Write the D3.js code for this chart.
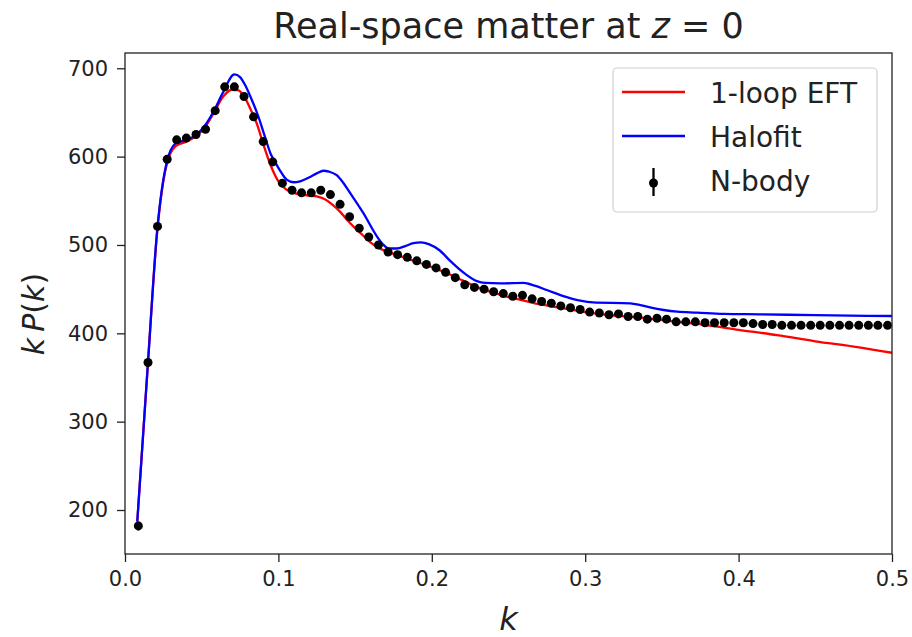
<!DOCTYPE html>
<html>
<head>
<meta charset="utf-8">
<script src="https://cdn.jsdelivr.net/npm/d3@7"></script>
<style>
  body { margin: 0; background: #fff; }
  text { font-family: "DejaVu Sans", sans-serif; fill: #222; }
</style>
</head>
<body>
<svg id="chart" width="912" height="637"></svg>
<script>
// N-body measurements
const nbodyK = [0.0087, 0.0150, 0.0212, 0.0275, 0.0337, 0.0400, 0.0463, 0.0525, 0.0588, 0.0650,
  0.0713, 0.0776, 0.0838, 0.0901, 0.0963, 0.1026, 0.1089, 0.1151, 0.1214, 0.1276,
  0.1339, 0.1402, 0.1464, 0.1527, 0.1589, 0.1652, 0.1715, 0.1777, 0.1840, 0.1902,
  0.1965, 0.2028, 0.2090, 0.2153, 0.2215, 0.2278, 0.2341, 0.2403, 0.2466, 0.2528,
  0.2591, 0.2654, 0.2716, 0.2779, 0.2841, 0.2904, 0.2967, 0.3029, 0.3092, 0.3155,
  0.3217, 0.3280, 0.3343, 0.3405, 0.3468, 0.3530, 0.3593, 0.3656, 0.3718, 0.3781,
  0.3843, 0.3906, 0.3969, 0.4031, 0.4094, 0.4157, 0.4219, 0.4282, 0.4345, 0.4407,
  0.4470, 0.4532, 0.4595, 0.4658, 0.4720, 0.4783, 0.4846, 0.4908, 0.4971];
const nbodyP = [182, 367, 521, 597, 619, 621, 625, 631, 652, 679,
  679, 668, 645, 617, 594, 570, 562, 559, 559, 562,
  557, 546, 532, 519, 509, 500, 492, 489, 486, 482,
  478, 474, 469, 463, 455, 452, 450, 447, 445, 442,
  443, 439, 436, 434, 431, 429, 427, 424, 423, 421,
  422, 419, 419, 416, 417, 416, 413, 413, 413, 412,
  412, 412, 412, 412, 411, 410, 410, 409, 409, 409,
  409, 409, 409, 409, 409, 409, 409, 409, 409];
// error bars are smaller than the markers
const nbodyErr = [5, 4, 4, 3, 3, 3, 3, 3, 2, 2,
  2, 2, 2, 2, 2, 2, 2, 2, 2, 2,
  2, 2, 2, 2, 2, 2, 2, 2, 2, 2,
  1, 1, 1, 1, 1, 1, 1, 1, 1, 1,
  1, 1, 1, 1, 1, 1, 1, 1, 1, 1,
  1, 1, 1, 1, 1, 1, 1, 1, 1, 1,
  1, 1, 1, 1, 1, 1, 1, 1, 1, 1,
  1, 1, 1, 1, 1, 1, 1, 1, 1];

// 1-loop EFT curve
const eftK = [0.008, 0.0149, 0.021, 0.027, 0.033, 0.040, 0.046, 0.052, 0.058, 0.064,
  0.070, 0.074, 0.078, 0.082, 0.086, 0.090, 0.095, 0.100, 0.105, 0.110,
  0.115, 0.120, 0.125, 0.130, 0.135, 0.140, 0.145, 0.150, 0.155, 0.160,
  0.165, 0.170, 0.180, 0.190, 0.200, 0.210, 0.220, 0.230, 0.240, 0.250,
  0.260, 0.270, 0.280, 0.290, 0.300, 0.320, 0.340, 0.360, 0.380, 0.400,
  0.425, 0.450, 0.475, 0.500];
const eftP = [187, 365, 515, 590, 612, 617, 623, 633, 650, 668,
  676, 675, 667, 653, 637, 615, 590, 572, 563, 559,
  557, 556, 555, 552, 546, 538, 528, 519, 511, 503,
  497, 493, 487, 481, 475, 468, 460, 452, 446, 441,
  437, 433, 430, 427, 424, 420, 417, 413, 409, 404,
  398, 391, 385, 378];

// Halofit curve
const halofitK = [0.008, 0.0149, 0.021, 0.027, 0.033, 0.040, 0.046, 0.052, 0.058, 0.064,
  0.0713, 0.075, 0.0783, 0.082, 0.087, 0.0913, 0.095, 0.0978, 0.1015, 0.1054,
  0.110, 0.1141, 0.1207, 0.125, 0.1293, 0.133, 0.138, 0.142, 0.1467, 0.1554,
  0.1641, 0.168, 0.172, 0.177, 0.183, 0.188, 0.193, 0.198, 0.205, 0.212,
  0.2164, 0.222, 0.2294, 0.235, 0.2446, 0.2598, 0.267, 0.275, 0.288, 0.2968,
  0.305, 0.3294, 0.336, 0.343, 0.3511, 0.360, 0.3728, 0.390, 0.4141, 0.450, 0.500];
const halofitP = [187, 365, 517, 592, 615, 619, 624, 635, 652, 673,
  693, 690, 681, 667, 645, 622, 603, 594, 583, 574,
  571, 572, 577, 581, 584, 583, 579, 571, 559, 536,
  510, 501, 496, 496, 499, 502, 503, 501, 494, 482,
  475, 467, 459, 457, 456.5, 457, 454, 449, 441, 437,
  435, 434, 432, 429, 426.4, 424.5, 423.5, 422, 421.5, 420.5, 419.6];

const xTicks = [0.0, 0.1, 0.2, 0.3, 0.4, 0.5];
const yTicks = [200, 300, 400, 500, 600, 700];
const legendItems = ["1-loop EFT", "Halofit", "N-body"];

let svg = d3.select("#chart");
let plot = {l: 125, r: 892, t: 53, b: 554};

let x = d3.scaleLinear().domain([0, 0.5]).range([plot.l, plot.r]);
let y = d3.scaleLinear().domain([150.2, 717.3]).range([plot.b, plot.t]);

svg.append("rect").attr("width", 912).attr("height", 637).attr("fill", "#fff");

svg.append("defs").append("clipPath").attr("id", "clip")
  .append("rect")
  .attr("x", plot.l).attr("y", plot.t)
  .attr("width", plot.r - plot.l).attr("height", plot.b - plot.t);

// axes
let xAxis = svg.append("g")
  .attr("transform", `translate(0, ${plot.b})`)
  .call(d3.axisBottom(x).tickValues(xTicks).tickFormat(d3.format(".1f")).tickSizeOuter(0).tickSize(8).tickPadding(9));
let yAxis = svg.append("g")
  .attr("transform", `translate(${plot.l}, 0)`)
  .call(d3.axisLeft(y).tickValues(yTicks).tickSizeOuter(0).tickSize(8).tickPadding(9));
[xAxis, yAxis].forEach(a => {
  a.select(".domain").remove();
  a.selectAll(".tick line").attr("stroke", "#222").attr("stroke-width", 1.3);
  a.selectAll(".tick text").attr("font-size", 21).attr("fill", "#222")
    .attr("font-family", "DejaVu Sans");
});

let data = nbodyK.map((k, i) => ({k: k, p: nbodyP[i], e: nbodyErr[i]}));
let line = d3.line().x(d => x(d[0])).y(d => y(d[1])).curve(d3.curveMonotoneX);

let g = svg.append("g").attr("clip-path", "url(#clip)");
g.append("path")
  .attr("d", line(eftK.map((k, i) => [k, eftP[i]])))
  .attr("fill", "none").attr("stroke", "#ff0000").attr("stroke-width", 2.3);
g.append("path")
  .attr("d", line(halofitK.map((k, i) => [k, halofitP[i]])))
  .attr("fill", "none").attr("stroke", "#0000ff").attr("stroke-width", 2.3);

g.selectAll(".err").data(data).enter().append("line")
  .attr("x1", d => x(d.k)).attr("x2", d => x(d.k))
  .attr("y1", d => y(d.p - d.e)).attr("y2", d => y(d.p + d.e))
  .attr("stroke", "#000").attr("stroke-width", 2.3);
g.selectAll(".pt").data(data).enter().append("circle")
  .attr("cx", d => x(d.k)).attr("cy", d => y(d.p)).attr("r", 4.5)
  .attr("fill", "#000");

// frame
svg.append("rect")
  .attr("x", plot.l).attr("y", plot.t)
  .attr("width", plot.r - plot.l).attr("height", plot.b - plot.t)
  .attr("fill", "none").attr("stroke", "#222").attr("stroke-width", 1.3);

// title
let title = svg.append("text")
  .attr("x", (plot.l + plot.r) / 2).attr("y", 38)
  .attr("text-anchor", "middle").attr("font-size", 35);
title.append("tspan").text("Real-space matter at ");
title.append("tspan").attr("font-style", "italic").text("z");
title.append("tspan").text(" = 0");

// axis labels
svg.append("text")
  .attr("x", (plot.l + plot.r) / 2).attr("y", 630)
  .attr("text-anchor", "middle").attr("font-size", 32).attr("font-style", "italic")
  .text("k");
let yl = svg.append("text")
  .attr("transform", `translate(44, 314) rotate(-90)`)
  .attr("text-anchor", "middle").attr("font-size", 30);
yl.append("tspan").attr("font-style", "italic").text("k\u2009P");
yl.append("tspan").text("(");
yl.append("tspan").attr("font-style", "italic").text("k");
yl.append("tspan").text(")");

// legend
let lg = svg.append("g");
lg.append("rect")
  .attr("x", 613).attr("y", 68).attr("width", 264).attr("height", 144)
  .attr("rx", 4).attr("fill", "#fff").attr("fill-opacity", 0.8)
  .attr("stroke", "#d0d0d0").attr("stroke-width", 1.2);
let rowY = [92, 136, 180];
lg.append("line").attr("x1", 622).attr("x2", 685).attr("y1", rowY[0]).attr("y2", rowY[0])
  .attr("stroke", "#ff0000").attr("stroke-width", 2.3);
lg.append("line").attr("x1", 622).attr("x2", 685).attr("y1", rowY[1]).attr("y2", rowY[1])
  .attr("stroke", "#0000ff").attr("stroke-width", 2.3);
lg.append("line").attr("x1", 653.5).attr("x2", 653.5).attr("y1", rowY[2] - 12).attr("y2", rowY[2] + 16)
  .attr("stroke", "#000").attr("stroke-width", 2.3);
lg.append("circle").attr("cx", 653.5).attr("cy", rowY[2] + 3).attr("r", 4.5).attr("fill", "#000");
lg.selectAll(".lt").data(legendItems).enter().append("text")
  .attr("x", 710).attr("y", (d, i) => rowY[i] + 11)
  .attr("font-size", 28)
  .text(d => d);
</script>
</body>
</html>
